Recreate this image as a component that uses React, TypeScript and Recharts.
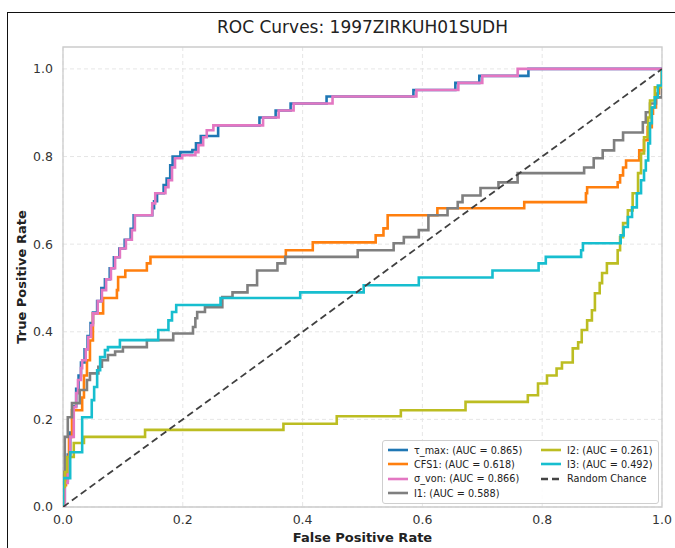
import React from 'react';
import { LineChart, Line, XAxis, YAxis, CartesianGrid, ReferenceArea, Legend } from 'recharts';

type P = [number, number];

// ROC vertices: [fpr at which tpr rises, tpr after rise]
const tauMax: P[] = [[0,0],[0.003,0.06],[0.008,0.12],[0.012,0.17],[0.017,0.23],[0.022,0.27],[0.026,0.3],[0.03,0.33],[0.036,0.36],[0.041,0.39],[0.046,0.42],[0.05,0.444],[0.057,0.47],[0.064,0.5],[0.07,0.52],[0.078,0.545],[0.085,0.57],[0.094,0.59],[0.103,0.61],[0.113,0.635],[0.118,0.666],[0.149,0.682],[0.152,0.698],[0.157,0.716],[0.168,0.735],[0.173,0.75],[0.179,0.78],[0.183,0.8],[0.196,0.81],[0.216,0.815],[0.222,0.83],[0.23,0.847],[0.259,0.871],[0.328,0.889],[0.355,0.905],[0.38,0.921],[0.44,0.937],[0.585,0.952],[0.655,0.968],[0.695,0.984],[0.777,1],[1,1]];
const cfs1: P[] = [[0,0],[0.002,0.05],[0.005,0.11],[0.01,0.16],[0.015,0.221],[0.032,0.25],[0.035,0.3],[0.04,0.335],[0.045,0.38],[0.05,0.442],[0.067,0.477],[0.09,0.495],[0.092,0.525],[0.104,0.54],[0.14,0.556],[0.146,0.571],[0.372,0.586],[0.417,0.604],[0.522,0.62],[0.535,0.636],[0.542,0.666],[0.625,0.682],[0.77,0.696],[0.873,0.716],[0.875,0.73],[0.926,0.741],[0.93,0.757],[0.935,0.775],[0.94,0.791],[0.962,0.814],[0.97,0.837],[0.976,0.867],[0.983,0.898],[0.985,0.912],[0.99,0.944],[0.995,0.96],[1,1]];
const sigmaVon: P[] = [[0,0],[0.003,0.055],[0.008,0.114],[0.012,0.16],[0.018,0.228],[0.022,0.26],[0.025,0.29],[0.03,0.317],[0.032,0.335],[0.038,0.36],[0.042,0.388],[0.047,0.415],[0.05,0.442],[0.058,0.47],[0.065,0.495],[0.072,0.52],[0.08,0.545],[0.087,0.57],[0.095,0.59],[0.105,0.61],[0.115,0.632],[0.12,0.666],[0.149,0.693],[0.154,0.716],[0.171,0.73],[0.176,0.746],[0.182,0.775],[0.187,0.796],[0.199,0.803],[0.221,0.81],[0.226,0.826],[0.234,0.844],[0.24,0.86],[0.251,0.871],[0.334,0.889],[0.36,0.905],[0.385,0.921],[0.45,0.937],[0.59,0.952],[0.66,0.968],[0.7,0.984],[0.759,1],[1,1]];
const i1: P[] = [[0,0],[0,0.08],[0.003,0.16],[0.008,0.205],[0.015,0.237],[0.028,0.267],[0.04,0.29],[0.045,0.305],[0.059,0.32],[0.065,0.335],[0.075,0.347],[0.087,0.355],[0.1,0.365],[0.14,0.381],[0.184,0.396],[0.217,0.411],[0.221,0.431],[0.224,0.445],[0.237,0.456],[0.266,0.479],[0.283,0.49],[0.308,0.506],[0.324,0.54],[0.358,0.556],[0.371,0.571],[0.492,0.586],[0.552,0.602],[0.569,0.616],[0.594,0.632],[0.61,0.666],[0.642,0.682],[0.659,0.696],[0.667,0.711],[0.697,0.728],[0.727,0.741],[0.759,0.762],[0.87,0.775],[0.886,0.796],[0.901,0.814],[0.92,0.837],[0.935,0.855],[0.968,0.878],[0.973,0.901],[0.98,0.921],[0.99,0.935],[1,1]];
const i2: P[] = [[0,0],[0,0.046],[0.003,0.08],[0.007,0.114],[0.018,0.146],[0.035,0.16],[0.137,0.176],[0.368,0.19],[0.457,0.207],[0.564,0.221],[0.672,0.24],[0.776,0.255],[0.793,0.282],[0.808,0.3],[0.824,0.316],[0.833,0.33],[0.851,0.362],[0.86,0.376],[0.866,0.404],[0.875,0.426],[0.883,0.449],[0.888,0.488],[0.896,0.511],[0.9,0.534],[0.908,0.556],[0.926,0.586],[0.93,0.616],[0.935,0.648],[0.943,0.677],[0.951,0.716],[0.96,0.762],[0.965,0.807],[0.97,0.844],[0.977,0.889],[0.98,0.928],[0.988,0.958],[1,1]];
const i3: P[] = [[0,0],[0,0.066],[0.012,0.125],[0.032,0.205],[0.048,0.244],[0.052,0.274],[0.057,0.312],[0.062,0.342],[0.07,0.358],[0.075,0.365],[0.095,0.381],[0.159,0.404],[0.176,0.426],[0.182,0.445],[0.189,0.461],[0.263,0.477],[0.396,0.49],[0.502,0.506],[0.594,0.524],[0.717,0.54],[0.794,0.556],[0.806,0.571],[0.865,0.586],[0.868,0.602],[0.931,0.62],[0.936,0.639],[0.943,0.662],[0.95,0.684],[0.958,0.716],[0.965,0.746],[0.97,0.768],[0.973,0.791],[0.977,0.83],[0.98,0.876],[0.983,0.912],[0.988,0.935],[0.993,0.962],[1,1]];
const chance: P[] = [[0,0],[1,1]];

const ticks = [0, 0.2, 0.4, 0.6, 0.8, 1.0];
const title = 'ROC Curves: 1997ZIRKUH01SUDH';
const xLabel = 'False Positive Rate';
const yLabel = 'True Positive Rate';

const series = [
  { key: 'tau', name: 'τ_max: (AUC = 0.865)', color: '#1f77b4', pts: tauMax },
  { key: 'cfs', name: 'CFS1: (AUC = 0.618)', color: '#ff7f0e', pts: cfs1 },
  { key: 'sig', name: 'σ_von: (AUC = 0.866)', color: '#e377c2', pts: sigmaVon },
  { key: 'i1', name: 'I1: (AUC = 0.588)', color: '#7f7f7f', pts: i1 },
  { key: 'i2', name: 'I2: (AUC = 0.261)', color: '#bcbd22', pts: i2 },
  { key: 'i3', name: 'I3: (AUC = 0.492)', color: '#17becf', pts: i3 },
];

const toRows = (pts: P[]) => pts.map(([x, y]) => ({ x, y }));
const FONT = '"DejaVu Sans", sans-serif';

const LegendBox = () => {
  const entries = [
    ...series.map((s) => ({ name: s.name, color: s.color, dashed: false })),
    { name: 'Random Chance', color: '#444', dashed: true },
  ];
  const col1 = entries.slice(0, 4);
  const col2 = entries.slice(4);
  const renderCol = (items: typeof entries, left: number) =>
    items.map((e, i) => (
      <div key={e.name} style={{ position: 'absolute', left, top: 2 + i * 14.4, height: 14, display: 'flex', alignItems: 'center' }}>
        <svg width={22} height={6} style={{ marginRight: 5 }}>
          <line x1={1} y1={3} x2={21} y2={3} stroke={e.color} strokeWidth={2.6} strokeDasharray={e.dashed ? '7 4' : undefined} />
        </svg>
        <span style={{ fontSize: 9.7, color: '#222', whiteSpace: 'nowrap', fontFamily: FONT }}>{e.name}</span>
      </div>
    ));
  return (
    <div style={{ position: 'relative', width: 277, height: 64, boxSizing: 'border-box', border: '1px solid #cfcfcf', borderRadius: 3, background: 'rgba(255,255,255,0.85)' }}>
      {renderCol(col1, 4)}
      {renderCol(col2, 157)}
    </div>
  );
};

export default function App() {
  return (
    <div style={{ position: 'absolute', left: 0, top: 0, width: 675, height: 548, overflow: 'hidden', background: '#fff', fontFamily: FONT }}>
      <div style={{ position: 'absolute', left: 7, top: 12, width: 700, height: 600, borderLeft: '1.5px solid #111', borderTop: '1.5px solid #111' }} />
      <div style={{ position: 'absolute', left: 63, top: 0, width: 599, height: 548 }} />
      <div style={{ position: 'absolute', left: 0, top: 0 }}>
        <LineChart width={675} height={548} margin={{ top: 47, right: 13, bottom: 11, left: 23 }}>
          <CartesianGrid stroke="#e3e3e3" strokeDasharray="4 3" strokeWidth={0.9} horizontalValues={ticks} verticalValues={ticks} />
          <ReferenceArea x1={0} x2={1} y1={0} y2={1.05} fill="none" stroke="#cccccc" strokeWidth={1.3} ifOverflow="visible" />
          <XAxis type="number" dataKey="x" domain={[0, 1]} ticks={ticks} allowDataOverflow
            tickFormatter={(v: number) => v.toFixed(1)} axisLine={false} tickLine={false} tickMargin={2}
            tick={{ fontSize: 12.5, fill: '#333', fontFamily: FONT }} height={30} />
          <YAxis type="number" dataKey="y" domain={[0, 1.05]} ticks={ticks} allowDataOverflow
            tickFormatter={(v: number) => v.toFixed(1)} axisLine={false} tickLine={false} tickMargin={4}
            tick={{ fontSize: 12.5, fill: '#333', fontFamily: FONT }} width={40} />
          {series.map((s) => (
            <Line key={s.key} data={toRows(s.pts)} dataKey="y" type="stepAfter" stroke={s.color}
              strokeWidth={2.6} dot={false} activeDot={false} isAnimationActive={false} name={s.name} />
          ))}
          <Line data={toRows(chance)} dataKey="y" type="linear" stroke="#404040" strokeWidth={1.8}
            strokeDasharray="7 4" dot={false} activeDot={false} isAnimationActive={false} name="Random Chance" />
          <Legend layout="horizontal" verticalAlign="middle" align="center" content={() => <LegendBox />}
            wrapperStyle={{ left: 382, top: 440, width: 277, height: 64 }} />
        </LineChart>
      </div>
      <div style={{ position: 'absolute', left: 63, top: 16, width: 599, textAlign: 'center', fontSize: 17, lineHeight: '22px', color: '#222' }}>{title}</div>
      <div style={{ position: 'absolute', left: 63, top: 529, width: 599, textAlign: 'center', fontSize: 13, fontWeight: 'bold', lineHeight: '17px', color: '#222' }}>{xLabel}</div>
      <div style={{ position: 'absolute', left: 22 - 150, top: 277 - 9, width: 300, textAlign: 'center', fontSize: 13, fontWeight: 'bold', lineHeight: '18px', color: '#222', transform: 'rotate(-90deg)' }}>{yLabel}</div>
    </div>
  );
}
